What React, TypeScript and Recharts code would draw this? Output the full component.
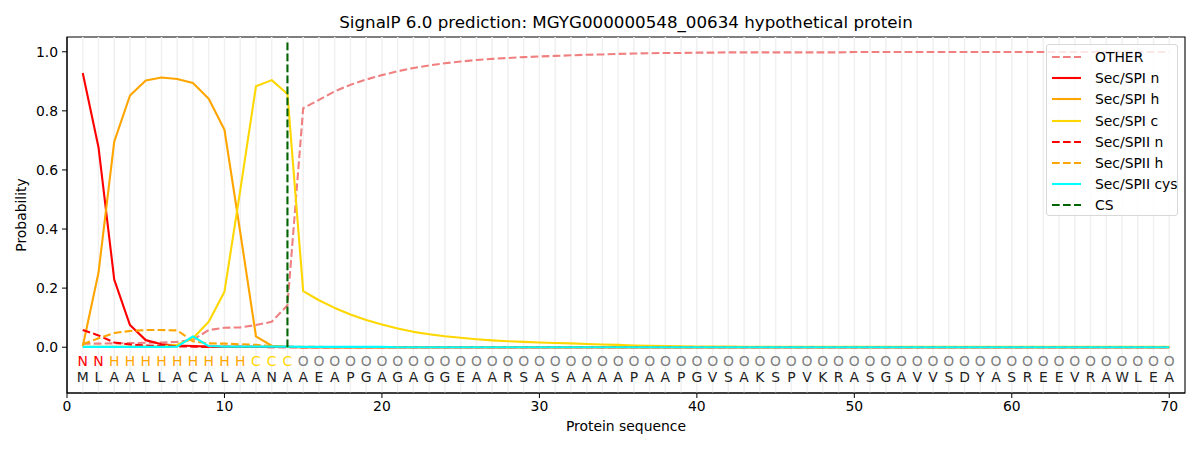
import React from "react";
import {
  ComposedChart,
  Line,
  Scatter,
  XAxis,
  YAxis,
  ReferenceLine,
  ReferenceArea,
} from "recharts";

// Protein sequence and per-residue predicted region
const RESIDUES = "MLAALLACALAANAAEAPGAGAGGEAARSASAAAAPAAPGVSAKSPVKRASGAVVSDYASREEVRAWLEA".split("");
const REGIONS = "NNHHHHHHHHHCCCOOOOOOOOOOOOOOOOOOOOOOOOOOOOOOOOOOOOOOOOOOOOOOOOOOOOOOOO".split("");

const X_TICKS = [0, 10, 20, 30, 40, 50, 60, 70];
const Y_TICKS = [0, 0.2, 0.4, 0.6, 0.8, 1.0];
const CS_POS = 14;

// probabilities per residue (1..70)
const OTHER = [
  0.012, 0.012, 0.013, 0.014, 0.015, 0.016, 0.018, 0.025, 0.058, 0.066,
  0.067, 0.075, 0.086, 0.142, 0.809, 0.837, 0.866, 0.888, 0.906, 0.921,
  0.934, 0.945, 0.954, 0.961, 0.967, 0.972, 0.976, 0.979, 0.982, 0.984,
  0.986, 0.988, 0.990, 0.991, 0.993, 0.994, 0.995, 0.996, 0.996, 0.997,
  0.997, 0.998, 0.998, 0.998, 0.998, 0.998, 0.998, 0.998, 0.998, 0.999,
  0.999, 0.999, 0.999, 0.999, 0.999, 0.999, 0.999, 0.999, 0.999, 0.999,
  0.999, 0.999, 0.999, 0.999, 0.999, 0.999, 0.999, 0.999, 0.999, 0.999,
];
const SPI_N = [
  0.928, 0.677, 0.229, 0.075, 0.024, 0.010, 0.006, 0.004, 0.002, 0.001,
  0.001, 0.001, 0.001, 0.001, 0, 0, 0, 0, 0, 0,
  0, 0, 0, 0, 0, 0, 0, 0, 0, 0,
  0, 0, 0, 0, 0, 0, 0, 0, 0, 0,
  0, 0, 0, 0, 0, 0, 0, 0, 0, 0,
  0, 0, 0, 0, 0, 0, 0, 0, 0, 0,
  0, 0, 0, 0, 0, 0, 0, 0, 0, 0,
];
const SPI_H = [
  0.003, 0.252, 0.696, 0.852, 0.903, 0.913, 0.908, 0.894, 0.841, 0.736,
  0.390, 0.037, 0.005, 0.001, 0, 0, 0, 0, 0, 0,
  0, 0, 0, 0, 0, 0, 0, 0, 0, 0,
  0, 0, 0, 0, 0, 0, 0, 0, 0, 0,
  0, 0, 0, 0, 0, 0, 0, 0, 0, 0,
  0, 0, 0, 0, 0, 0, 0, 0, 0, 0,
  0, 0, 0, 0, 0, 0, 0, 0, 0, 0,
];
const SPI_C = [
  0.001, 0.001, 0.001, 0.001, 0.002, 0.003, 0.008, 0.030, 0.086, 0.188,
  0.530, 0.883, 0.904, 0.857, 0.190, 0.159, 0.133, 0.111, 0.092, 0.077,
  0.063, 0.052, 0.044, 0.037, 0.032, 0.027, 0.023, 0.020, 0.018, 0.016,
  0.014, 0.013, 0.011, 0.009, 0.008, 0.006, 0.005, 0.004, 0.003, 0.002,
  0.002, 0.002, 0.001, 0.001, 0.001, 0.001, 0.001, 0.001, 0.001, 0.001,
  0.001, 0.001, 0.001, 0.001, 0.001, 0.001, 0.001, 0.001, 0.001, 0.001,
  0.001, 0.001, 0.001, 0.001, 0.001, 0.001, 0.001, 0.001, 0.001, 0.001,
];
const SPII_N = [
  0.058, 0.040, 0.016, 0.009, 0.006, 0.004, 0.003, 0.002, 0.001, 0.001,
  0.001, 0.001, 0, 0, 0, 0, 0, 0, 0, 0,
  0, 0, 0, 0, 0, 0, 0, 0, 0, 0,
  0, 0, 0, 0, 0, 0, 0, 0, 0, 0,
  0, 0, 0, 0, 0, 0, 0, 0, 0, 0,
  0, 0, 0, 0, 0, 0, 0, 0, 0, 0,
  0, 0, 0, 0, 0, 0, 0, 0, 0, 0,
];
const SPII_H = [
  0.010, 0.030, 0.048, 0.055, 0.058, 0.058, 0.057, 0.020, 0.013, 0.012,
  0.010, 0.008, 0.004, 0.002, 0.001, 0.001, 0, 0, 0, 0,
  0, 0, 0, 0, 0, 0, 0, 0, 0, 0,
  0, 0, 0, 0, 0, 0, 0, 0, 0, 0,
  0, 0, 0, 0, 0, 0, 0, 0, 0, 0,
  0, 0, 0, 0, 0, 0, 0, 0, 0, 0,
  0, 0, 0, 0, 0, 0, 0, 0, 0, 0,
];
const SPII_CYS = [
  0.001, 0.001, 0.001, 0.001, 0.001, 0.001, 0.002, 0.037, 0.004, 0.002,
  0.002, 0.002, 0.002, 0.002, 0.001, 0.001, 0.001, 0.001, 0.001, 0.001,
  0, 0, 0, 0, 0, 0, 0, 0, 0, 0,
  0, 0, 0, 0, 0, 0, 0, 0, 0, 0,
  0, 0, 0, 0, 0, 0, 0, 0, 0, 0,
  0, 0, 0, 0, 0, 0, 0, 0, 0, 0,
  0, 0, 0, 0, 0, 0, 0, 0, 0, 0,
];

const DASH = "7.7 3.3";
const FONT = "'DejaVu Sans', sans-serif";

const SERIES = [
  { key: "other", name: "OTHER", values: OTHER, color: "#F08080", dash: DASH },
  { key: "spiN", name: "Sec/SPI n", values: SPI_N, color: "#FF0000" },
  { key: "spiH", name: "Sec/SPI h", values: SPI_H, color: "#FFA500" },
  { key: "spiC", name: "Sec/SPI c", values: SPI_C, color: "#FFD700" },
  { key: "spiiN", name: "Sec/SPII n", values: SPII_N, color: "#FF0000", dash: DASH },
  { key: "spiiH", name: "Sec/SPII h", values: SPII_H, color: "#FFA500", dash: DASH },
  { key: "spiiCys", name: "Sec/SPII cys", values: SPII_CYS, color: "#00FFFF" },
];

const REGION_COLORS: Record<string, string> = {
  N: "#FF0000",
  H: "#FFA500",
  C: "#FFD700",
  O: "#808080",
};

const LABEL_Y = -0.047;
const RESIDUE_Y = -0.1;

const data = RESIDUES.map((res, i) => {
  const row: Record<string, number | string> = { pos: i + 1, res, region: REGIONS[i] };
  SERIES.forEach((s) => {
    row[s.key] = s.values[i];
  });
  return row;
});

const regionPoints = data.map((d) => ({ pos: d.pos, y: LABEL_Y, region: d.region }));
const residuePoints = data.map((d) => ({ pos: d.pos, y: RESIDUE_Y, res: d.res }));

function RegionMark(props: any) {
  const { cx, cy, payload } = props;
  return (
    <text
      x={cx}
      y={cy}
      textAnchor="middle"
      dominantBaseline="central"
      fontFamily={FONT}
      fontSize={13.9}
      fill={REGION_COLORS[payload.region]}
    >
      {payload.region}
    </text>
  );
}

function ResidueMark(props: any) {
  const { cx, cy, payload } = props;
  return (
    <text
      x={cx}
      y={cy}
      textAnchor="middle"
      dominantBaseline="central"
      fontFamily={FONT}
      fontSize={13.9}
      fill="#222"
    >
      {payload.res}
    </text>
  );
}

function Legend() {
  const items = [
    ...SERIES.map((s) => ({ name: s.name, color: s.color, dash: s.dash })),
    { name: "CS", color: "#006400", dash: DASH },
  ];
  return (
    <div
      style={{
        position: "absolute",
        left: 1046,
        top: 44,
        width: 130,
        height: 170,
        border: "1px solid #d8d8d8",
        borderRadius: 3,
        background: "rgba(255,255,255,0.8)",
        fontFamily: FONT,
        fontSize: 13.9,
      }}
    >
      {items.map((it, i) => (
        <div
          key={it.name}
          style={{ position: "absolute", left: 0, top: 2 + i * 21.2, height: 20, display: "flex", alignItems: "center" }}
        >
          <svg width={40} height={20} style={{ marginLeft: 4 }}>
            <line x1={1} x2={30} y1={10} y2={10} stroke={it.color} strokeWidth={2.1} strokeDasharray={it.dash} />
          </svg>
          <span style={{ marginLeft: 4, color: "#000", whiteSpace: "nowrap" }}>{it.name}</span>
        </div>
      ))}
    </div>
  );
}

export default function App() {
  return (
    <div style={{ position: "absolute", left: 0, top: 0, width: 1200, height: 450, background: "#fff" }}>
      <ComposedChart
        width={1200}
        height={450}
        data={data}
        margin={{ top: 37, right: 15, bottom: 27, left: 0 }}
      >
        <XAxis
          dataKey="pos"
          type="number"
          domain={[0, 71]}
          ticks={X_TICKS}
          allowDataOverflow
          height={30}
          tickSize={5}
          tickMargin={3}
          stroke="#000"
          tick={{ fill: "#000", fontFamily: FONT, fontSize: 13.9 }}
        />
        <YAxis
          type="number"
          domain={[-0.155, 1.05]}
          ticks={Y_TICKS}
          allowDataOverflow
          width={67}
          tickSize={5}
          tickMargin={4}
          stroke="#000"
          tickFormatter={(v: number) => v.toFixed(1)}
          tick={{ fill: "#000", fontFamily: FONT, fontSize: 13.9 }}
        />
        {data.map((d) => (
          <ReferenceLine key={`g${d.pos}`} x={d.pos} stroke="#f0f0f0" strokeWidth={1.5} />
        ))}
        {SERIES.map((s) => (
          <Line
            key={s.key}
            dataKey={s.key}
            name={s.name}
            stroke={s.color}
            strokeWidth={2.1}
            strokeDasharray={s.dash}
            strokeLinejoin="round"
            dot={false}
            activeDot={false}
            isAnimationActive={false}
          />
        ))}
        <ReferenceLine
          segment={[
            { x: CS_POS, y: 0 },
            { x: CS_POS, y: 1.04 },
          ]}
          stroke="#006400"
          strokeWidth={2.1}
          strokeDasharray={DASH}
        />
        <Scatter data={regionPoints} dataKey="y" shape={RegionMark} isAnimationActive={false} />
        <Scatter data={residuePoints} dataKey="y" shape={ResidueMark} isAnimationActive={false} />
        <ReferenceArea x1={0} x2={71} y1={-0.155} y2={1.05} fill="none" stroke="#000" strokeWidth={1.1} ifOverflow="visible" />
      </ComposedChart>
      <div
        style={{
          position: "absolute",
          left: 67,
          width: 1118,
          top: 12,
          textAlign: "center",
          fontFamily: FONT,
          fontSize: 16.7,
          color: "#000",
        }}
      >
        SignalP 6.0 prediction: MGYG000000548_00634 hypothetical protein
      </div>
      <div
        style={{
          position: "absolute",
          left: 67,
          width: 1118,
          top: 418,
          textAlign: "center",
          fontFamily: FONT,
          fontSize: 13.9,
          color: "#000",
        }}
      >
        Protein sequence
      </div>
      <div
        style={{
          position: "absolute",
          left: 21,
          top: 215,
          transform: "translate(-50%, -50%) rotate(-90deg)",
          fontFamily: FONT,
          fontSize: 13.9,
          color: "#000",
          whiteSpace: "nowrap",
        }}
      >
        Probability
      </div>
      <Legend />
    </div>
  );
}
